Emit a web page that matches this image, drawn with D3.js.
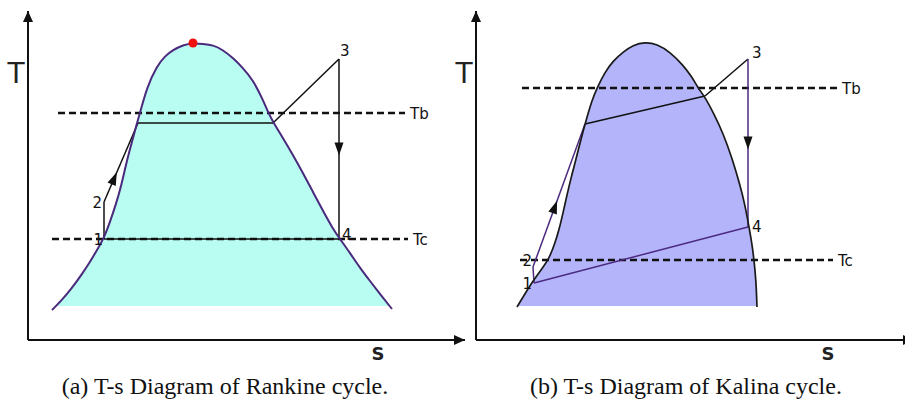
<!DOCTYPE html>
<html>
<head>
<meta charset="utf-8">
<script src="https://cdn.jsdelivr.net/npm/d3@7"></script>
<style>
  body { margin: 0; background: #fff; }
  svg { display: block; }
</style>
</head>
<body>
<svg id="chart" width="905" height="399"></svg>
<script>
// ---- Rankine cycle (entropy s, temperature T, arbitrary units) ----
const rankineDomeS = [24, 34, 44, 54, 62, 69, 76, 82, 88, 93, 99, 105, 109, 112, 119, 129, 137, 145, 155, 165,
                      175, 185, 195, 205, 215, 225, 235, 240, 245, 255, 265, 275, 285, 295, 305, 312, 322, 332, 342, 352, 364];
const rankineDomeT = [30, 40, 52, 66, 78, 90, 102, 118, 136, 153, 180, 202, 217, 227, 253, 274, 284, 290, 295, 297,
                      296, 295, 290, 282, 272, 260, 240, 228, 218, 202, 185, 167, 148, 129, 111, 101, 87, 72, 59, 46, 31];
const rankineBaseT = 34;
const rankineCriticalPoint = { s: 165, T: 297 };
// cycle states: 1, 2, start/end of boiling, 3, 4
const rankineCycleS = [76, 76, 110, 245, 311, 311];
const rankineCycleT = [101, 138, 217, 217, 281, 101];
const rankineTb = { T: 227, s0: 30, s1: 377 };
const rankineTc = { T: 101, s0: 24, s1: 380 };

// ---- Kalina cycle ----
const kalinaDomeS = [41, 47, 57, 65, 73, 79, 83, 87, 91, 95, 99, 104, 109, 116, 121, 129, 137, 147, 157, 169,
                     181, 194, 207, 216, 222, 229, 238, 247, 256, 264, 269, 273, 276, 278, 280, 281];
const kalinaDomeT = [33, 43, 59, 70, 81, 97, 110, 127, 145, 162, 177, 197, 216, 240, 252, 268, 279, 288, 295, 298,
                     296, 288, 275, 263, 252, 243, 226, 207, 182, 155, 135, 113, 96, 80, 60, 33];
const kalinaBaseT = 34;
// cycle states: 1, 2, start of evaporation, end of evaporation, 3, 4
const kalinaCycleS = [58, 57, 109, 229, 272, 272];
const kalinaCycleT = [57, 73, 216, 244, 281, 113];
const kalinaTb = { T: 252, s0: 46, s1: 361 };
const kalinaTc = { T: 80, s0: 44, s1: 357 };

const stateLabels = ["1", "2", "3", "4"];
const axisLabels = { y: "T", x: "S" };
const captions = ["(a) T-s Diagram of Rankine cycle.", "(b) T-s Diagram of Kalina cycle."];

const svg = d3.select("#chart");
const black = "#111";
const purple = "#4b2a80";

// filled triangle placed along a segment, pointing in the segment direction
function midArrow(g, x, y, a, b, t, len, halfW, color) {
  const px = x(a[0]) + (x(b[0]) - x(a[0])) * t;
  const py = y(a[1]) + (y(b[1]) - y(a[1])) * t;
  const ang = Math.atan2(y(b[1]) - y(a[1]), x(b[0]) - x(a[0])) * 180 / Math.PI;
  g.append("path")
    .attr("d", `M${len / 2},0 L${-len / 2},${-halfW} L${-len / 2},${halfW} Z`)
    .attr("transform", `translate(${px},${py}) rotate(${ang})`)
    .attr("fill", color);
}

function axisArrow(g, x1, y1, x2, y2) {
  g.append("line").attr("x1", x1).attr("y1", y1).attr("x2", x2).attr("y2", y2)
    .attr("stroke", black).attr("stroke-width", 2);
  const ang = Math.atan2(y2 - y1, x2 - x1) * 180 / Math.PI;
  g.append("path")
    .attr("d", "M0,0 L-11,-5 L-11,5 Z")
    .attr("transform", `translate(${x2},${y2}) rotate(${ang})`)
    .attr("fill", black);
}

function drawPanel(cfg) {
  const g = svg.append("g");
  const x = d3.scaleLinear().domain([0, 432]).range([cfg.x0, cfg.x0 + 432]);
  const y = d3.scaleLinear().domain([0, 328]).range([340, 12]);

  const dome = cfg.domeS.map((s, i) => [s, cfg.domeT[i]]);
  const line = d3.line().x(d => x(d[0])).y(d => y(d[1])).curve(d3.curveBasis);

  // two-phase region fill, cut flat at the base temperature
  const clipId = "clip" + cfg.id;
  svg.append("clipPath").attr("id", clipId)
    .append("rect")
    .attr("x", x(0)).attr("y", 0)
    .attr("width", 432).attr("height", y(cfg.baseT));
  g.append("path")
    .attr("d", line(dome) + "Z")
    .attr("fill", cfg.fill)
    .attr("clip-path", `url(#${clipId})`);

  // isotherms Tb and Tc
  [[cfg.tb, "Tb"], [cfg.tc, "Tc"]].forEach(([iso, name]) => {
    g.append("line")
      .attr("x1", x(iso.s0)).attr("x2", x(iso.s1))
      .attr("y1", y(iso.T)).attr("y2", y(iso.T))
      .attr("stroke", black).attr("stroke-width", 2.3)
      .attr("stroke-dasharray", "7,4");
    g.append("text")
      .attr("x", x(iso.s1) + 5).attr("y", y(iso.T) + 5.5)
      .attr("font-family", "DejaVu Sans, sans-serif")
      .attr("font-size", 15)
      .attr("fill", black)
      .text(name);
  });

  // cycle path
  const pts = cfg.cycleS.map((s, i) => [s, cfg.cycleT[i]]);
  cfg.segments.forEach(([i, j, color]) => {
    g.append("line")
      .attr("x1", x(pts[i][0])).attr("y1", y(pts[i][1]))
      .attr("x2", x(pts[j][0])).attr("y2", y(pts[j][1]))
      .attr("stroke", color).attr("stroke-width", 1.5);
  });

  // saturation dome outline
  g.append("path")
    .attr("d", line(dome))
    .attr("fill", "none")
    .attr("stroke", cfg.domeStroke)
    .attr("stroke-width", cfg.domeWidth);

  cfg.arrows.forEach(([i, j, t, color]) => midArrow(g, x, y, pts[i], pts[j], t, 13, 4.5, color));

  // state numbers
  cfg.labelAt.forEach(([idx, dx, dy, anchor], k) => {
    g.append("text")
      .attr("x", x(pts[idx][0]) + dx).attr("y", y(pts[idx][1]) + dy)
      .attr("text-anchor", anchor)
      .attr("font-family", "DejaVu Sans, sans-serif")
      .attr("font-size", 15)
      .attr("fill", black)
      .text(stateLabels[k]);
  });

  if (cfg.critical) {
    g.append("circle")
      .attr("cx", x(cfg.critical.s)).attr("cy", y(cfg.critical.T))
      .attr("r", 4.5).attr("fill", "#f01010");
  }

  // axes
  axisArrow(g, x(0), y(0), x(0), 11);
  axisArrow(g, x(0), y(0), cfg.xTip, y(0));
  g.append("text")
    .attr("x", x(0) - 12).attr("y", 83)
    .attr("text-anchor", "middle")
    .attr("font-family", "DejaVu Sans, sans-serif")
    .attr("font-size", 28)
    .attr("fill", "#222")
    .text(axisLabels.y);
  g.append("text")
    .attr("x", cfg.sLabelX).attr("y", 360)
    .attr("text-anchor", "middle")
    .attr("font-family", "DejaVu Sans, sans-serif")
    .attr("font-weight", "bold")
    .attr("font-size", 18)
    .attr("fill", "#222")
    .text(axisLabels.x);

  g.append("text")
    .attr("x", cfg.captionX).attr("y", 394)
    .attr("text-anchor", "middle")
    .attr("font-family", "Liberation Serif, Times New Roman, serif")
    .attr("font-size", 24)
    .attr("fill", black)
    .text(cfg.caption);
}

drawPanel({
  id: "a", x0: 28, xTip: 465, sLabelX: 378, captionX: 225,
  domeS: rankineDomeS, domeT: rankineDomeT, baseT: rankineBaseT,
  fill: "#b9fcf1", domeStroke: "#4a2a7c", domeWidth: 2,
  tb: rankineTb, tc: rankineTc,
  cycleS: rankineCycleS, cycleT: rankineCycleT,
  segments: [[0, 1, black], [1, 2, black], [2, 3, black], [3, 4, black], [4, 5, black], [5, 0, black]],
  arrows: [[1, 2, 0.3, black], [4, 5, 0.5, black]],
  labelAt: [[0, -1, 6, "end"], [1, -2, 6, "end"], [4, 1, -3, "start"], [5, 3, 1, "start"]],
  critical: rankineCriticalPoint,
  caption: captions[0]
});

drawPanel({
  id: "b", x0: 476, xTip: 914, sLabelX: 828, captionX: 686,
  domeS: kalinaDomeS, domeT: kalinaDomeT, baseT: kalinaBaseT,
  fill: "#b4b4fb", domeStroke: "#1a1a1a", domeWidth: 1.7,
  tb: kalinaTb, tc: kalinaTc,
  cycleS: kalinaCycleS, cycleT: kalinaCycleT,
  segments: [[0, 1, purple], [1, 2, purple], [2, 3, black], [3, 4, black], [4, 5, purple], [0, 5, purple]],
  arrows: [[1, 2, 0.42, black], [4, 5, 0.5, black]],
  labelAt: [[0, -2, 6, "end"], [1, -1, -1, "end"], [4, 4, -1, "start"], [5, 4, 5, "start"]],
  critical: null,
  caption: captions[1]
});
</script>
</body>
</html>
